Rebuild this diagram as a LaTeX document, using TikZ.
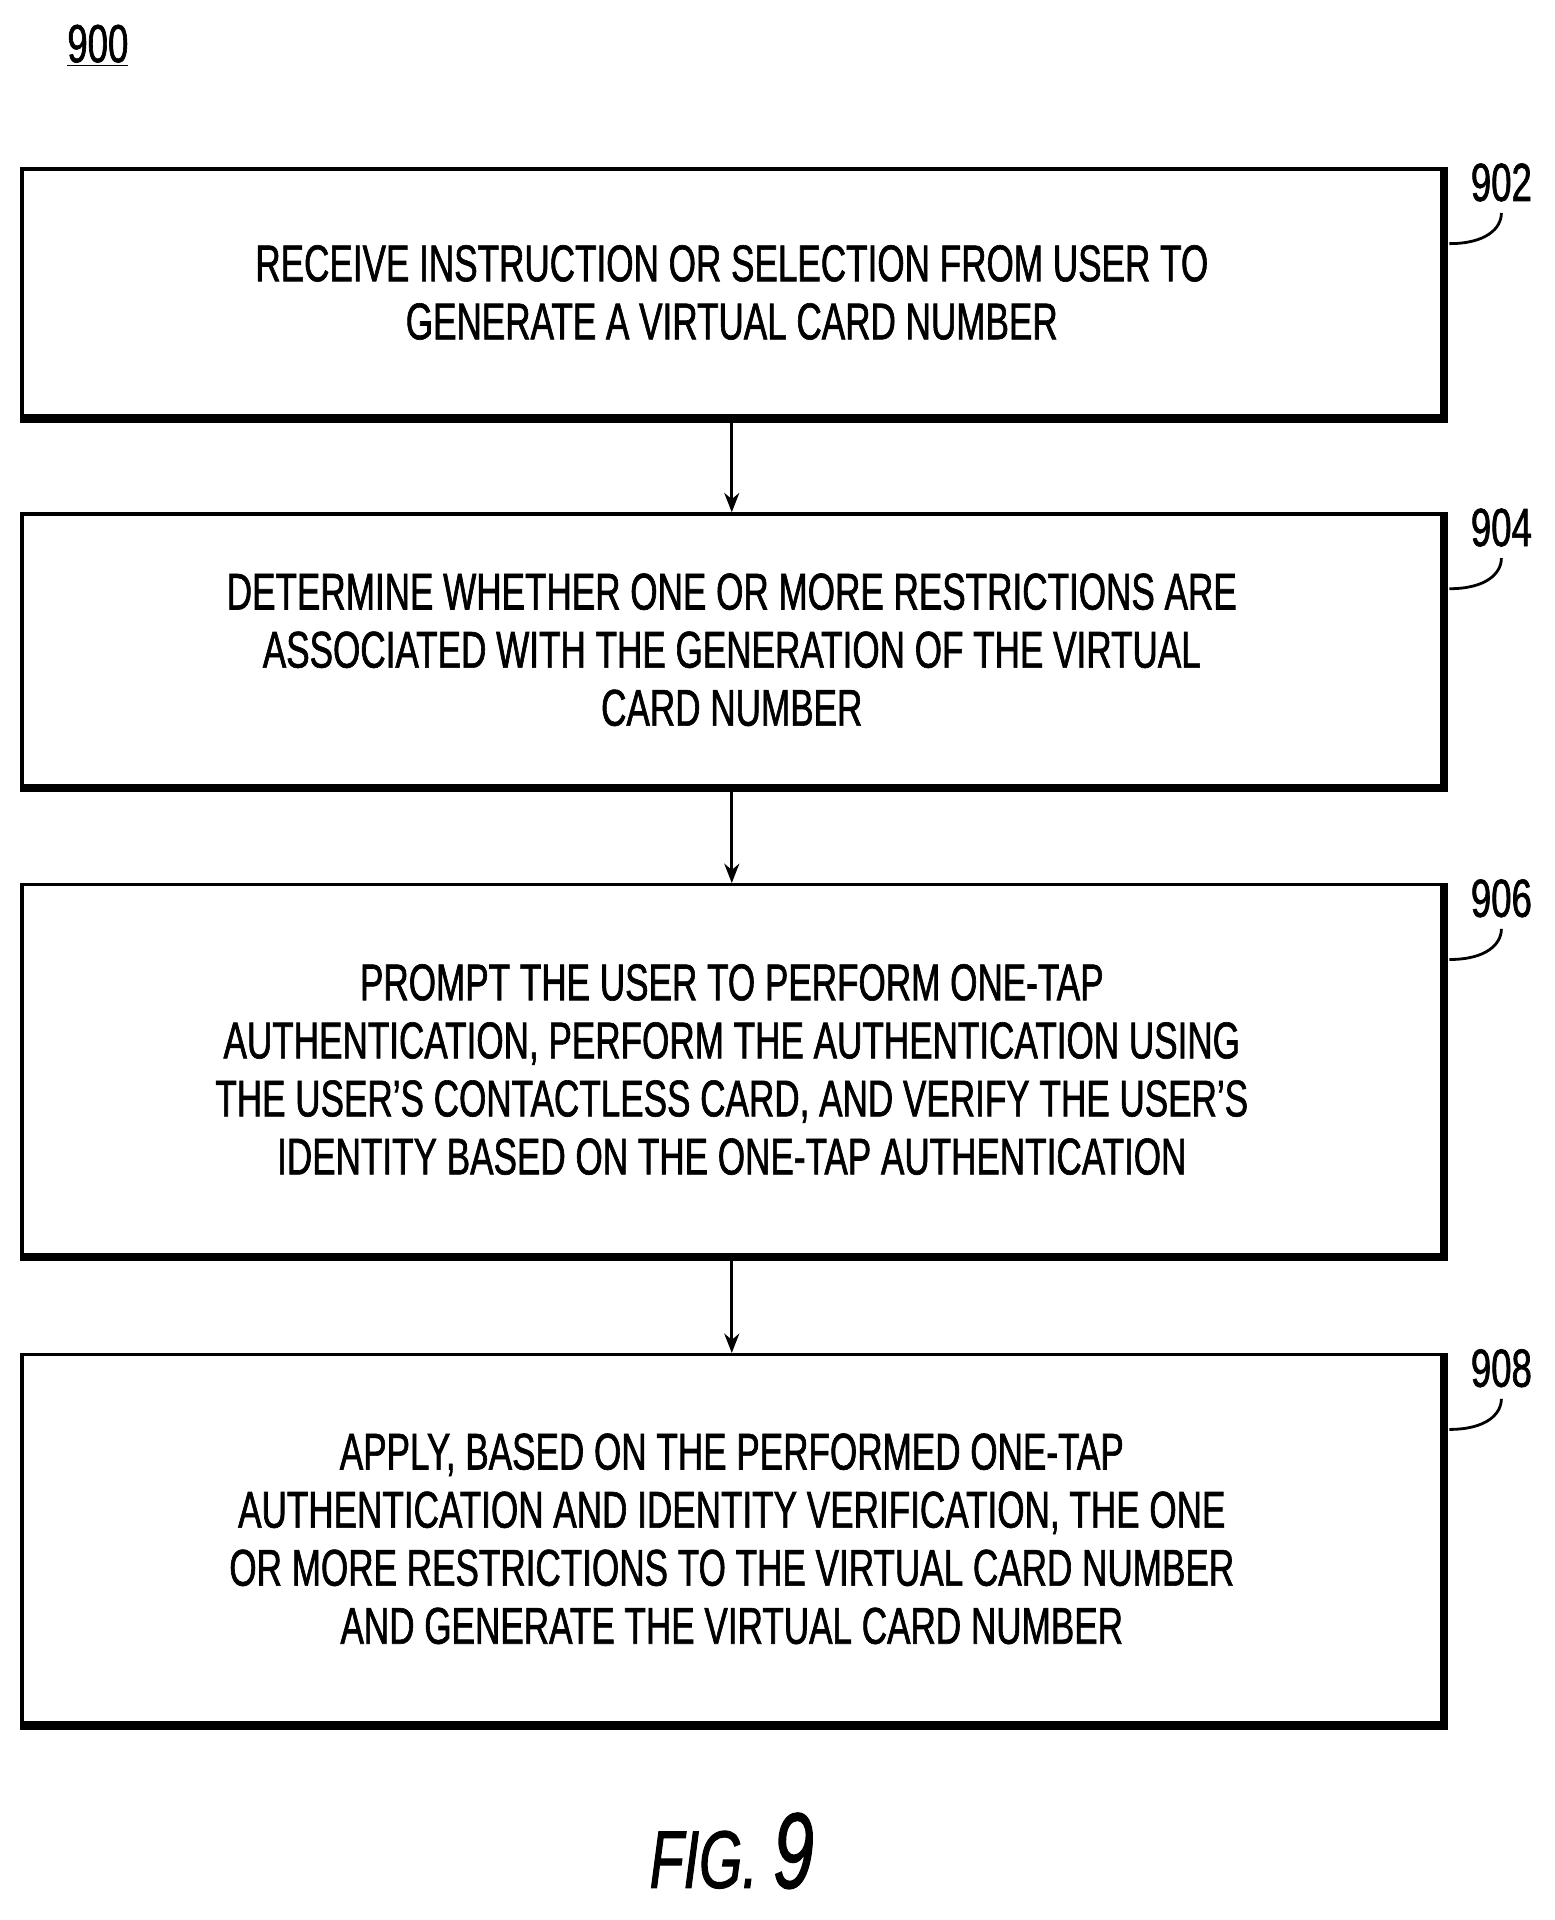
\documentclass[tikz,border=0pt]{standalone}
\usepackage{fontspec}
\setmainfont{Liberation Sans}[FakeStretch=0.68,FakeBold=1.2]
\usetikzlibrary{arrows.meta}
\begin{document}
\begin{tikzpicture}[
   stepbox/.style={rectangle,draw,line width=1.6pt,minimum width=23.2cm,
    align=center,font=\fontsize{24}{27}\selectfont},
   reflabel/.style={font=\fontsize{25}{28}\selectfont},
   lead/.style={line width=1.3pt},
   flow/.style={-{Stealth[length=9pt,width=7pt]},line width=1.3pt}
    ]
  \useasboundingbox (0,0) rectangle (25.4,-31.38);

  % -- title
  \node[reflabel] at (1.6,-0.75) (t900) {\underline{900}};

  % -- steps
  \node[stepbox,minimum height=4.04cm] at (11.96,-4.78) (b902)
    {RECEIVE INSTRUCTION OR SELECTION FROM USER TO\\GENERATE A VIRTUAL CARD NUMBER};
  \node[stepbox,minimum height=4.44cm] at (11.96,-10.62) (b904)
    {DETERMINE WHETHER ONE OR MORE RESTRICTIONS ARE\\ASSOCIATED WITH THE GENERATION OF THE VIRTUAL\\CARD NUMBER};
  \node[stepbox,minimum height=6.04cm] at (11.96,-17.48) (b906)
    {PROMPT THE USER TO PERFORM ONE-TAP\\AUTHENTICATION, PERFORM THE AUTHENTICATION USING\\THE USER’S CONTACTLESS CARD, AND VERIFY THE USER’S\\IDENTITY BASED ON THE ONE-TAP AUTHENTICATION};
  \node[stepbox,minimum height=6.02cm] at (11.96,-25.15) (b908)
    {APPLY, BASED ON THE PERFORMED ONE-TAP\\AUTHENTICATION AND IDENTITY VERIFICATION, THE ONE\\OR MORE RESTRICTIONS TO THE VIRTUAL CARD NUMBER\\AND GENERATE THE VIRTUAL CARD NUMBER};

  % -- shadows and labels
  \foreach \n in {902,904,906,908} {
    \draw[line width=2.2pt] ([shift={(0.04,0)}]b\n.north east) -- ([shift={(0.04,-0.04)}]b\n.south east)
      -- ([shift={(0,-0.04)}]b\n.south west);
    \node[reflabel] at ([shift={(0.95,-0.25)}]b\n.north east) (l\n) {\n};
    \draw[lead] ([shift={(0.1,-1.25)}]b\n.north east) .. controls ([shift={(0.7,-1.25)}]b\n.north east) and ([shift={(0.95,-1.0)}]b\n.north east) .. ([shift={(0.95,-0.75)}]b\n.north east);
  }

  % -- arrows
  \draw[flow] (b902) -- (b904);
  \draw[flow] (b904) -- (b906);
  \draw[flow] (b906) -- (b908);

  \node[font=\fontsize{38}{42}\selectfont\itshape] at (11.96,-30.25) (fig) {FIG. \fontsize{50}{54}\selectfont 9};
\end{tikzpicture}
\end{document}
